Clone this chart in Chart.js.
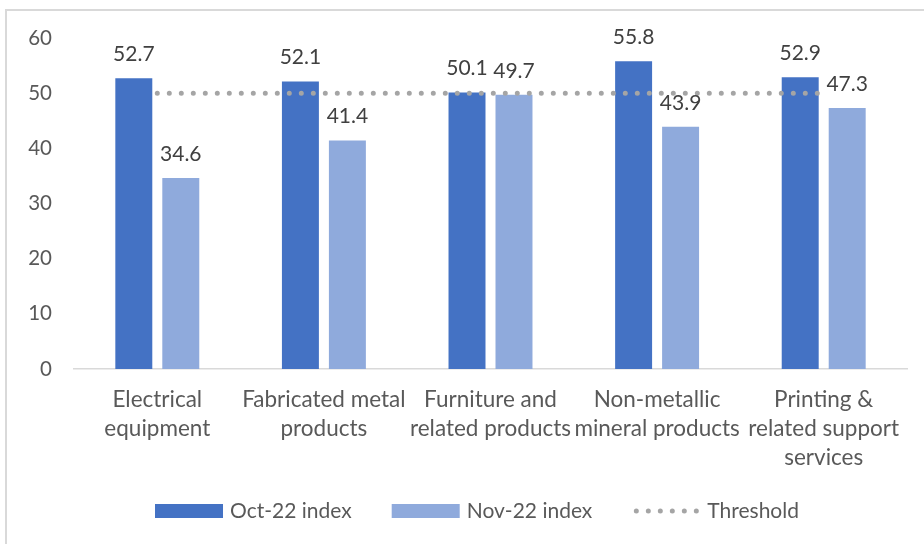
<!DOCTYPE html>
<html>
<head>
<meta charset="utf-8">
<script src="https://cdn.jsdelivr.net/npm/chart.js@4.4.0/dist/chart.umd.min.js"></script>
<style>
  html, body { margin: 0; background: #fff; }
  #wrap { position: relative; width: 924px; height: 544px; }
</style>
</head>
<body>
<div id="wrap"><canvas id="chart"></canvas></div>
<script>
const categories = [
  ["Electrical", "equipment"],
  ["Fabricated metal", "products"],
  ["Furniture and", "related products"],
  ["Non-metallic", "mineral products"],
  ["Printing &", "related support", "services"]
];
const oct22 = [52.7, 52.1, 50.1, 55.8, 52.9];
const nov22 = [34.6, 41.4, 49.7, 43.9, 47.3];
const threshold = [50, 50, 50, 50, 50];
const yMin = 0, yMax = 60, yStep = 10;

const FONT = "Lato, 'Open Sans', sans-serif";

// frame around the chart (the original sits in a bordered box)
const framePlugin = {
  id: "frame",
  beforeDraw(chart) {
    const { ctx } = chart;
    ctx.save();
    ctx.fillStyle = "#fff";
    ctx.fillRect(0, 0, chart.width, chart.height);
    ctx.strokeStyle = "#D9D9D9";
    ctx.lineWidth = 2;
    ctx.beginPath();
    ctx.moveTo(6, chart.height);
    ctx.lineTo(6, 10);
    ctx.lineTo(chart.width, 10);
    ctx.stroke();
    ctx.restore();
  }
};

// value labels above the bars
const valueLabels = {
  id: "valueLabels",
  afterDatasetsDraw(chart) {
    const { ctx } = chart;
    ctx.save();
    ctx.font = "21px " + FONT;
    ctx.fillStyle = "#404040";
    ctx.textAlign = "center";
    ctx.textBaseline = "middle";
    chart.data.datasets.forEach((ds, i) => {
      if (ds.type === "line") return;
      chart.getDatasetMeta(i).data.forEach((bar, j) => {
        ctx.fillText(ds.data[j].toFixed(1), bar.x, bar.y - 24);
      });
    });
    ctx.restore();
  }
};

// legend drawn by hand so the dotted threshold sample looks right
const bottomLegend = {
  id: "bottomLegend",
  afterDraw(chart) {
    const { ctx } = chart;
    const items = [chart.data.datasets[1], chart.data.datasets[2], chart.data.datasets[0]];
    const boxW = 68, boxH = 14, gap = 7, spacing = 40, cy = 511, center = 477;
    ctx.save();
    ctx.font = "21px " + FONT;
    const widths = items.map(d => ctx.measureText(d.label).width);
    const total = widths.reduce((a, w) => a + boxW + gap + w, 0) + spacing * (items.length - 1);
    let x = center - total / 2;
    items.forEach((d, i) => {
      if (d.type === "line") {
        ctx.strokeStyle = d.borderColor;
        ctx.lineWidth = d.borderWidth;
        ctx.lineCap = "round";
        ctx.setLineDash(d.borderDash);
        ctx.beginPath();
        ctx.moveTo(x + 4, cy);
        ctx.lineTo(x + boxW, cy);
        ctx.stroke();
        ctx.setLineDash([]);
      } else {
        ctx.fillStyle = d.backgroundColor;
        ctx.fillRect(x, cy - boxH / 2, boxW, boxH);
      }
      ctx.fillStyle = "#595959";
      ctx.textAlign = "left";
      ctx.textBaseline = "middle";
      ctx.fillText(d.label, x + boxW + gap, cy);
      x += boxW + gap + widths[i] + spacing;
    });
    ctx.restore();
  }
};

new Chart(document.getElementById("chart"), {
  type: "bar",
  data: {
    labels: categories,
    datasets: [
      {
        type: "line",
        label: "Threshold",
        data: threshold,
        borderColor: "#A5A5A5",
        borderWidth: 5,
        borderDash: [0, 12],
        borderCapStyle: "round",
        pointRadius: 0,
        fill: false,
        order: 0
      },
      {
        label: "Oct-22 index",
        data: oct22,
        backgroundColor: "#4472C4",
        categoryPercentage: 0.564,
        barPercentage: 0.787,
        order: 1
      },
      {
        label: "Nov-22 index",
        data: nov22,
        backgroundColor: "#8FAADC",
        categoryPercentage: 0.564,
        barPercentage: 0.787,
        order: 1
      }
    ]
  },
  options: {
    responsive: true,
    maintainAspectRatio: false,
    animation: false,
    devicePixelRatio: 1,
    layout: { padding: { top: 38, right: 17, left: 0, bottom: 0 } },
    plugins: {
      legend: { display: false },
      tooltip: { enabled: false },
      title: { display: false }
    },
    scales: {
      x: {
        grid: { display: false, drawTicks: false },
        border: { display: true, color: "#D9D9D9", width: 1.5 },
        ticks: {
          color: "#595959",
          font: { family: FONT, size: 22.5, lineHeight: 1.3 },
          padding: 16,
          maxRotation: 0,
          autoSkip: false
        },
        afterFit(scale) { scale.height = 175; }
      },
      y: {
        min: yMin,
        max: yMax,
        grid: { display: false, drawTicks: false },
        border: { display: false },
        ticks: {
          stepSize: yStep,
          color: "#595959",
          font: { family: FONT, size: 20.5 },
          padding: 22
        },
        afterFit(scale) { scale.width = 74; }
      }
    }
  },
  plugins: [framePlugin, valueLabels, bottomLegend]
});
</script>
</body>
</html>
